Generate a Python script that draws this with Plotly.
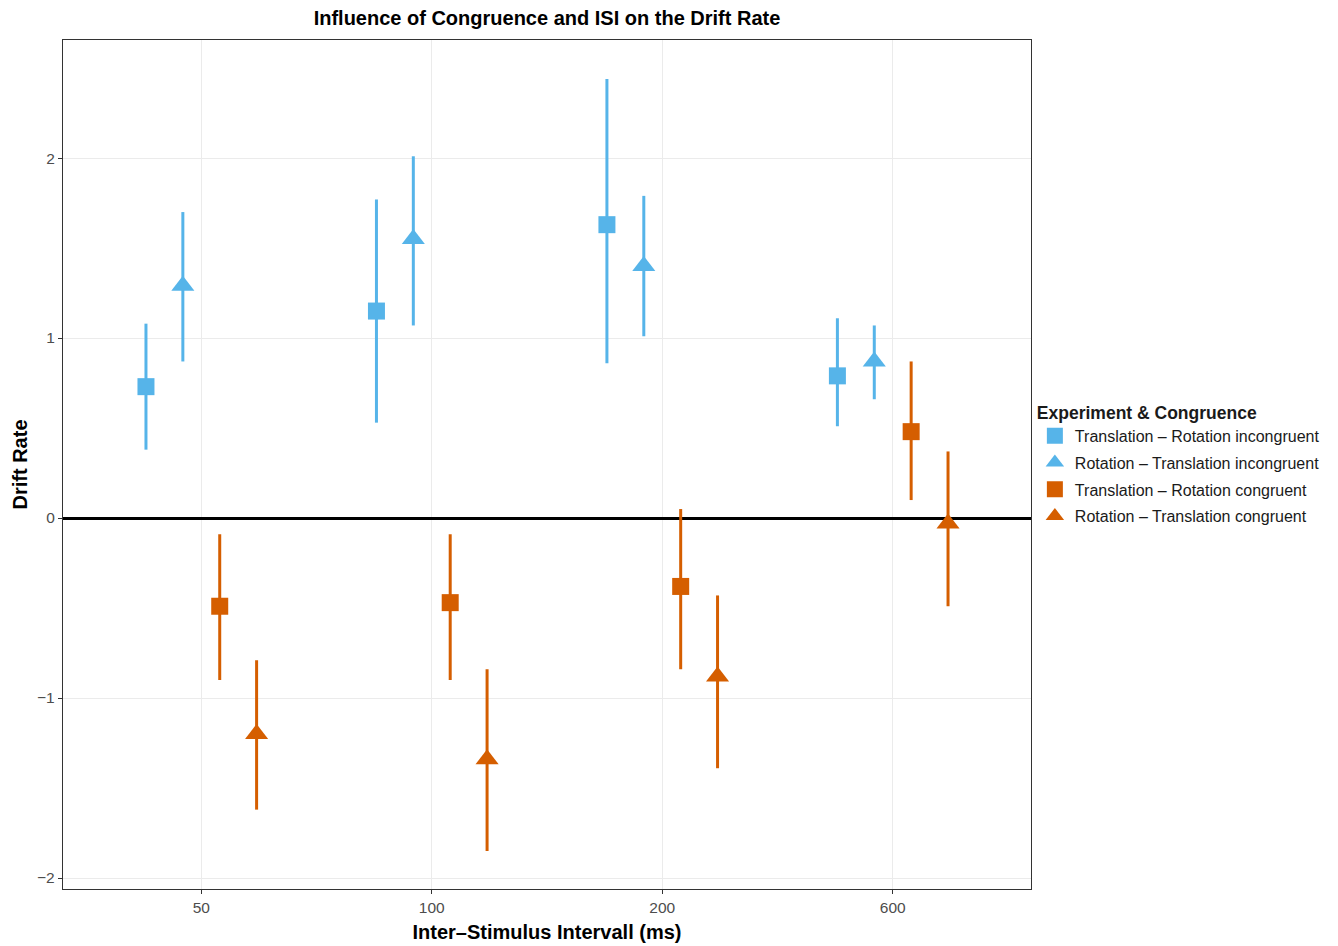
import plotly.graph_objects as go

categories = ["50", "100", "200", "600"]
series_names = [
    "Translation – Rotation incongruent",
    "Rotation – Translation incongruent",
    "Translation – Rotation congruent",
    "Rotation – Translation congruent",
]
colors = ["#56B4E9", "#56B4E9", "#D55E00", "#D55E00"]
symbols = ["square", "triangle-up", "square", "triangle-up"]

tr_incong = [0.73, 1.15, 1.63, 0.79]
tr_incong_hi = [1.08, 1.77, 2.44, 1.11]
tr_incong_lo = [0.38, 0.53, 0.86, 0.51]

rt_incong = [1.29, 1.55, 1.40, 0.87]
rt_incong_hi = [1.70, 2.01, 1.79, 1.07]
rt_incong_lo = [0.87, 1.07, 1.01, 0.66]

tr_cong = [-0.49, -0.47, -0.38, 0.48]
tr_cong_hi = [-0.09, -0.09, 0.05, 0.87]
tr_cong_lo = [-0.90, -0.90, -0.84, 0.10]

rt_cong = [-1.20, -1.34, -0.88, -0.03]
rt_cong_hi = [-0.79, -0.84, -0.43, 0.37]
rt_cong_lo = [-1.62, -1.85, -1.39, -0.49]

means = [tr_incong, rt_incong, tr_cong, rt_cong]
highs = [tr_incong_hi, rt_incong_hi, tr_cong_hi, rt_cong_hi]
lows = [tr_incong_lo, rt_incong_lo, tr_cong_lo, rt_cong_lo]
dodge = [-0.24, -0.08, 0.08, 0.24]

fig = go.Figure()
for k in range(4):
    xs = [i + dodge[k] for i in range(len(categories))]
    fig.add_trace(go.Scatter(
        x=xs, y=means[k], mode="markers", name=series_names[k],
        legendgroup=f"g{k}",
        marker=dict(symbol=symbols[k], color=colors[k],
                    size=17 if symbols[k] == "square" else 20, line=dict(width=0)),
        error_y=dict(type="data", symmetric=False,
                     array=[h - m for h, m in zip(highs[k], means[k])],
                     arrayminus=[m - l for m, l in zip(means[k], lows[k])],
                     width=0, thickness=3, color=colors[k]),
    ))

font_main = "Liberation Sans, Arial, Helvetica, sans-serif"
fig.update_layout(
    width=1338, height=946,
    paper_bgcolor="white", plot_bgcolor="white",
    margin=dict(l=63, r=307, t=40, b=57),
    font=dict(family=font_main, color="#000000"),
    title=dict(text="<b>Influence of Congruence and ISI on the Drift Rate</b>",
               x=(63 + 1031) / 2 / 1338, xanchor="center", y=1 - 18 / 946, yanchor="middle",
               font=dict(size=20, color="black")),
    showlegend=True,
    legend=dict(title=dict(text="<b>Experiment & Congruence</b>", font=dict(size=17.5)),
                font=dict(size=16, color="#1a1a1a"), x=1.004, xanchor="left",
                y=0.5, yanchor="middle", tracegroupgap=3, itemsizing="trace",
                bgcolor="rgba(0,0,0,0)"),
)
fig.update_xaxes(
    automargin=False,
    range=[-0.6, 3.6], tickvals=list(range(len(categories))), ticktext=categories,
    showgrid=True, gridcolor="#EBEBEB", gridwidth=1.3, zeroline=False,
    showline=True, linecolor="#333333", linewidth=1.3, mirror=True,
    ticks="outside", ticklen=4, tickcolor="#333333", tickwidth=1.1,
    tickfont=dict(size=15.5, color="#4D4D4D"),
    title=dict(text="<b>Inter–Stimulus Intervall (ms)</b>", font=dict(size=20, color="black"), standoff=10),
)
fig.update_yaxes(
    automargin=False,
    range=[-2.061, 2.656], tickvals=[-2, -1, 0, 1, 2], ticktext=["−2", "−1", "0", "1", "2"],
    showgrid=True, gridcolor="#EBEBEB", gridwidth=1.3,
    zeroline=True, zerolinecolor="black", zerolinewidth=2.8,
    showline=True, linecolor="#333333", linewidth=1.3, mirror=True,
    ticks="outside", ticklen=4, tickcolor="#333333", tickwidth=1.1,
    tickfont=dict(size=15.5, color="#4D4D4D"),
    title=dict(text="<b>Drift Rate</b>", font=dict(size=20, color="black"), standoff=4),
)

fig.write_html("out.html", config={"displayModeBar": False},
               post_script="document.body.style.margin='0';document.body.style.overflow='hidden';")
